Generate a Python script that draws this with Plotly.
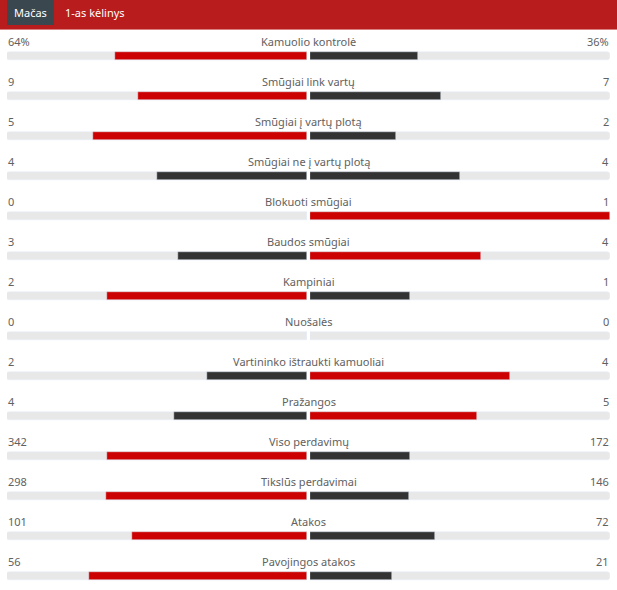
import plotly.graph_objects as go

labels = ["Kamuolio kontrolė", "Smūgiai link vartų", "Smūgiai į vartų plotą",
          "Smūgiai ne į vartų plotą", "Blokuoti smūgiai", "Baudos smūgiai",
          "Kampiniai", "Nuošalės", "Vartininko ištraukti kamuoliai", "Pražangos",
          "Viso perdavimų", "Tikslūs perdavimai", "Atakos", "Pavojingos atakos"]
home = [64, 9, 5, 4, 0, 3, 2, 0, 2, 4, 342, 298, 101, 56]
away = [36, 7, 2, 4, 1, 4, 1, 0, 4, 5, 172, 146, 72, 21]
home_text = ["64%", "9", "5", "4", "0", "3", "2", "0", "2", "4", "342", "298", "101", "56"]
away_text = ["36%", "7", "2", "4", "1", "4", "1", "0", "4", "5", "172", "146", "72", "21"]
tabs = ["Mačas", "1-as kėlinys"]

W, H = 617, 590
RED = "#cc0000"
DARK = "#333333"
GRAY = "#e8e8e8"
TXT = "#616161"
FONT = "Noto Sans"

rows = list(range(len(labels)))
hf, af, hc, ac = [], [], [], []
for h, a in zip(home, away):
    s = h + a
    hf.append(h / s if s else 0)
    af.append(a / s if s else 0)
    hc.append(RED if h > a else DARK)
    ac.append(RED if a > h else DARK)

fig = go.Figure()
bw = 8 / 40
# backgrounds
fig.add_trace(go.Bar(y=rows, x=[1] * len(rows), orientation="h", xaxis="x", yaxis="y",
                     marker=dict(color=GRAY, cornerradius=3), width=bw, hoverinfo="skip",
                     showlegend=False))
fig.add_trace(go.Bar(y=rows, x=[1] * len(rows), orientation="h", xaxis="x2", yaxis="y",
                     marker=dict(color=GRAY, cornerradius=3), width=bw, hoverinfo="skip",
                     showlegend=False))
fig.add_trace(go.Bar(y=rows, x=hf, orientation="h", xaxis="x", yaxis="y",
                     marker=dict(color=hc), width=bw, showlegend=False))
fig.add_trace(go.Bar(y=rows, x=af, orientation="h", xaxis="x2", yaxis="y",
                     marker=dict(color=ac), width=bw, showlegend=False))

ann = []
for i, lab in enumerate(labels):
    yl = i - 15 / 40
    ann.append(dict(x=308.5 / W, y=yl, xref="paper", yref="y", text=lab, showarrow=False,
                    xanchor="center", yanchor="middle", font=dict(family=FONT, size=11, color=TXT)))
    ann.append(dict(x=6 / W, y=yl, xref="paper", yref="y", text=home_text[i], showarrow=False,
                    xanchor="left", yanchor="middle", font=dict(family=FONT, size=11, color=TXT)))
    ann.append(dict(x=611 / W, y=yl, xref="paper", yref="y", text=away_text[i], showarrow=False,
                    xanchor="right", yanchor="middle", font=dict(family=FONT, size=11, color=TXT)))

# header
shapes = [
    dict(type="rect", xref="paper", yref="paper", x0=0, x1=1, y0=1 - 29 / H, y1=1,
         fillcolor="#b81c1c", line_width=0, layer="below"),
    dict(type="rect", xref="paper", yref="paper", x0=0, x1=1, y0=1 - 30 / H, y1=1 - 29 / H,
         fillcolor="#d98080", line_width=0, layer="below"),
    dict(type="rect", xref="paper", yref="paper", x0=7 / W, x1=54 / W, y0=1 - 25 / H, y1=1,
         fillcolor="#3a474f", line_width=0, layer="below"),
]
ann.append(dict(x=30.5 / W, y=1 - 13 / H, xref="paper", yref="paper", text=tabs[0], showarrow=False,
                xanchor="center", yanchor="middle", font=dict(family=FONT, size=11, color="white")))
ann.append(dict(x=63 / W, y=1 - 13 / H, xref="paper", yref="paper", text=tabs[1], showarrow=False,
                xanchor="left", yanchor="middle", font=dict(family=FONT, size=11, color="white")))

fig.update_layout(
    width=W, height=H, margin=dict(l=0, r=0, t=0, b=0),
    paper_bgcolor="white", plot_bgcolor="white",
    barmode="overlay", bargap=0,
    xaxis=dict(domain=[7 / W, 307 / W], range=[1, 0], visible=False, fixedrange=True),
    xaxis2=dict(domain=[310 / W, 610 / W], range=[0, 1], visible=False, fixedrange=True),
    yaxis=dict(range=[(H - 56) / 40, -56 / 40], visible=False, fixedrange=True),
    annotations=ann, shapes=shapes,
)
fig.write_html("out.html")
